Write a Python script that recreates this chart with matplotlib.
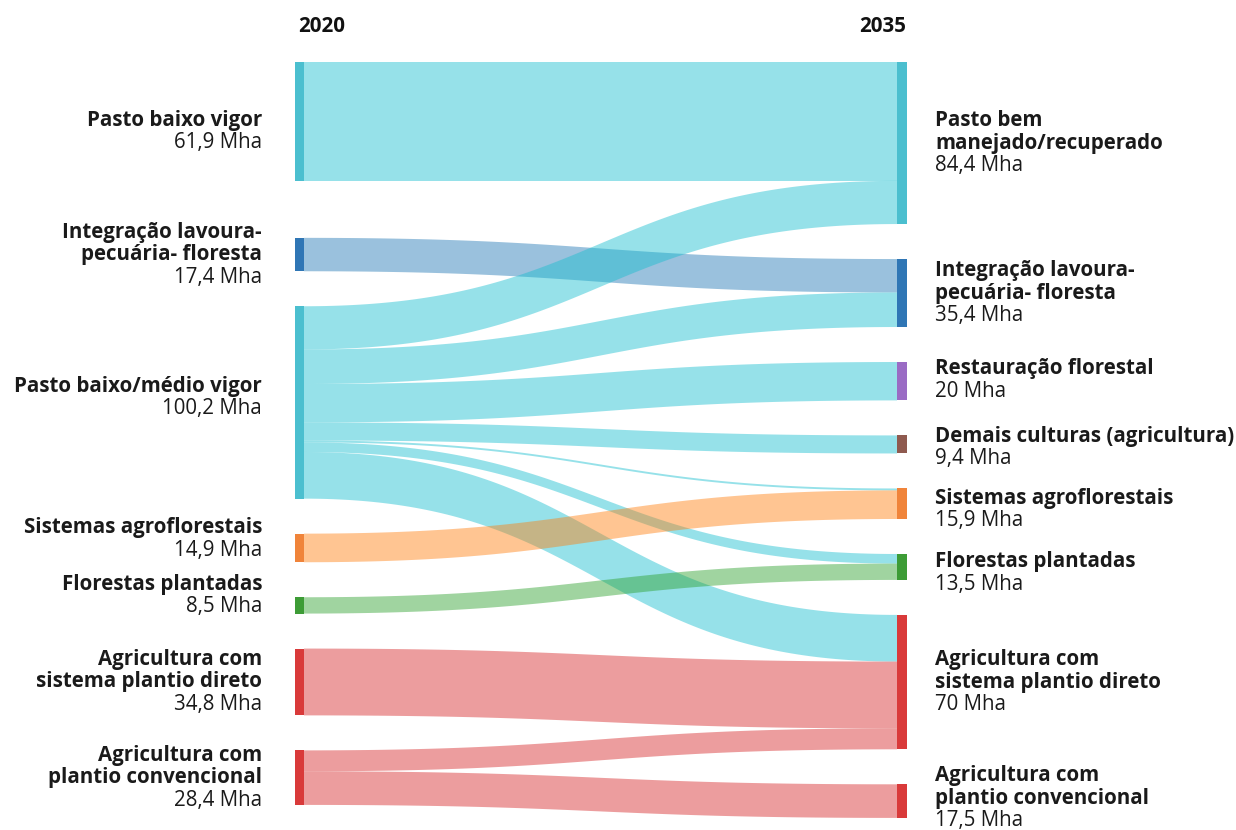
import matplotlib.pyplot as plt
from matplotlib.patches import Polygon, Rectangle
import numpy as np

# nos de 2020 (esquerda) e 2035 (direita)
esq_nomes = ["Pasto baixo vigor", "Integração lavoura-\npecuária- floresta",
             "Pasto baixo/médio vigor", "Sistemas agroflorestais",
             "Florestas plantadas", "Agricultura com\nsistema plantio direto",
             "Agricultura com\nplantio convencional"]
esq_valores = ["61,9 Mha", "17,4 Mha", "100,2 Mha", "14,9 Mha", "8,5 Mha", "34,8 Mha", "28,4 Mha"]
esq_cores = ["#4bbfcf", "#2f76b5", "#4bbfcf", "#f0843a", "#3d9c36", "#d93a3a", "#d93a3a"]

dir_nomes = ["Pasto bem\nmanejado/recuperado", "Integração lavoura-\npecuária- floresta",
             "Restauração florestal", "Demais culturas (agricultura)",
             "Sistemas agroflorestais", "Florestas plantadas",
             "Agricultura com\nsistema plantio direto", "Agricultura com\nplantio convencional"]
dir_valores = ["84,4 Mha", "35,4 Mha", "20 Mha", "9,4 Mha", "15,9 Mha", "13,5 Mha", "70 Mha", "17,5 Mha"]
dir_cores = ["#4bbfcf", "#2f76b5", "#9a6bc4", "#8f5a4f", "#f0843a", "#3d9c36", "#d93a3a", "#d93a3a"]

# fluxos: origem, destino, Mha
fluxo_origem = [0, 1, 2, 2, 2, 2, 2, 2, 2, 3, 4, 5, 6, 6]
fluxo_destino = [0, 1, 0, 1, 2, 3, 4, 5, 6, 4, 5, 6, 6, 7]
fluxo_mha = [61.9, 17.4, 22.5, 18.0, 20.0, 9.4, 1.0, 5.0, 24.3, 14.9, 8.5, 34.8, 10.9, 17.5]

link_cores = ["#17becf", "#1f77b4", "#17becf", "#17becf", "#17becf", "#17becf", "#17becf",
              "#17becf", "#17becf", "#ff7f0e", "#2ca02c", "#d62728", "#d62728", "#d62728"]

# layout em pixels
W, H = 1236, 830
escala = 1.92
topo = 62
gap = 35
gap_extra_esq = 22
x_esq = (294.5, 304)
x_dir = (897, 906.5)
linha = 22.5
tam = 14.8

fig = plt.figure(figsize=(W / 100, H / 100), dpi=100)
ax = fig.add_axes([0, 0, 1, 1])
ax.set_xlim(0, W)
ax.set_ylim(H, 0)
ax.axis("off")

fonte = "Open Sans"

n_esq = len(esq_nomes)
n_dir = len(dir_nomes)
tot_esq = np.zeros(n_esq)
tot_dir = np.zeros(n_dir)
for o, d, v in zip(fluxo_origem, fluxo_destino, fluxo_mha):
    tot_esq[o] += v
    tot_dir[d] += v

# posicoes dos nos
y_esq = []
y = topo
for i in range(n_esq):
    y_esq.append(y)
    y += tot_esq[i] * escala + gap + (gap_extra_esq if i == 0 else 0)
y_dir = []
y = topo
for i in range(n_dir):
    y_dir.append(y)
    y += tot_dir[i] * escala + gap

# posicoes dos fluxos dentro dos nos
ordem = sorted(range(len(fluxo_mha)), key=lambda k: (fluxo_origem[k], fluxo_destino[k]))
cur_esq = list(y_esq)
ini_esq = {}
for k in ordem:
    ini_esq[k] = cur_esq[fluxo_origem[k]]
    cur_esq[fluxo_origem[k]] += fluxo_mha[k] * escala
ordem = sorted(range(len(fluxo_mha)), key=lambda k: (fluxo_destino[k], fluxo_origem[k]))
cur_dir = list(y_dir)
ini_dir = {}
for k in ordem:
    ini_dir[k] = cur_dir[fluxo_destino[k]]
    cur_dir[fluxo_destino[k]] += fluxo_mha[k] * escala

t = np.linspace(0, 1, 120)
x0, x1 = x_esq[1], x_dir[0]
xm = (x0 + x1) / 2
xs = (1 - t) ** 3 * x0 + 3 * (1 - t) ** 2 * t * xm + 3 * (1 - t) * t ** 2 * xm + t ** 3 * x1
s = 3 * t ** 2 - 2 * t ** 3
for k in range(len(fluxo_mha)):
    h = fluxo_mha[k] * escala
    ya, yb = ini_esq[k], ini_dir[k]
    top = ya + (yb - ya) * s
    pts = np.concatenate([np.column_stack([xs, top]), np.column_stack([xs[::-1], top[::-1] + h])])
    ax.add_patch(Polygon(pts, closed=True, facecolor=link_cores[k], alpha=0.45,
                         edgecolor="none", zorder=1))

def rotulo(x, yc, nome, valor, ha):
    partes = nome.split("\n")
    n = len(partes) + 1
    y0 = yc - (n - 1) * linha / 2
    for i, p in enumerate(partes):
        ax.text(x, y0 + i * linha, p, ha=ha, va="center", fontsize=tam,
                fontweight="bold", family=fonte, color="#1a1a1a")
    ax.text(x, y0 + (n - 1) * linha, valor, ha=ha, va="center", fontsize=tam,
            fontweight="medium", family=fonte, color="#1a1a1a")

desl_esq = [10, 0, -5, -9, -10, 0, 0]
desl_dir = [0, 0, -1, 3, 6, 6, 0, -3]

for i in range(n_esq):
    h = tot_esq[i] * escala
    ax.add_patch(Rectangle((x_esq[0], y_esq[i]), x_esq[1] - x_esq[0], h,
                           facecolor=esq_cores[i], edgecolor="none", zorder=2))
    rotulo(262, y_esq[i] + h / 2 + desl_esq[i], esq_nomes[i], esq_valores[i], "right")

for i in range(n_dir):
    h = tot_dir[i] * escala
    ax.add_patch(Rectangle((x_dir[0], y_dir[i]), x_dir[1] - x_dir[0], h,
                           facecolor=dir_cores[i], edgecolor="none", zorder=2))
    rotulo(935, y_dir[i] + h / 2 + desl_dir[i], dir_nomes[i], dir_valores[i], "left")

ax.text(x_esq[0] + 4, 26, "2020", ha="left", va="center", fontsize=tam,
        fontweight="bold", family=fonte, color="#111111")
ax.text(x_dir[1], 26, "2035", ha="right", va="center", fontsize=tam,
        fontweight="bold", family=fonte, color="#111111")

fig.savefig("out.png", dpi=100, facecolor="white")
